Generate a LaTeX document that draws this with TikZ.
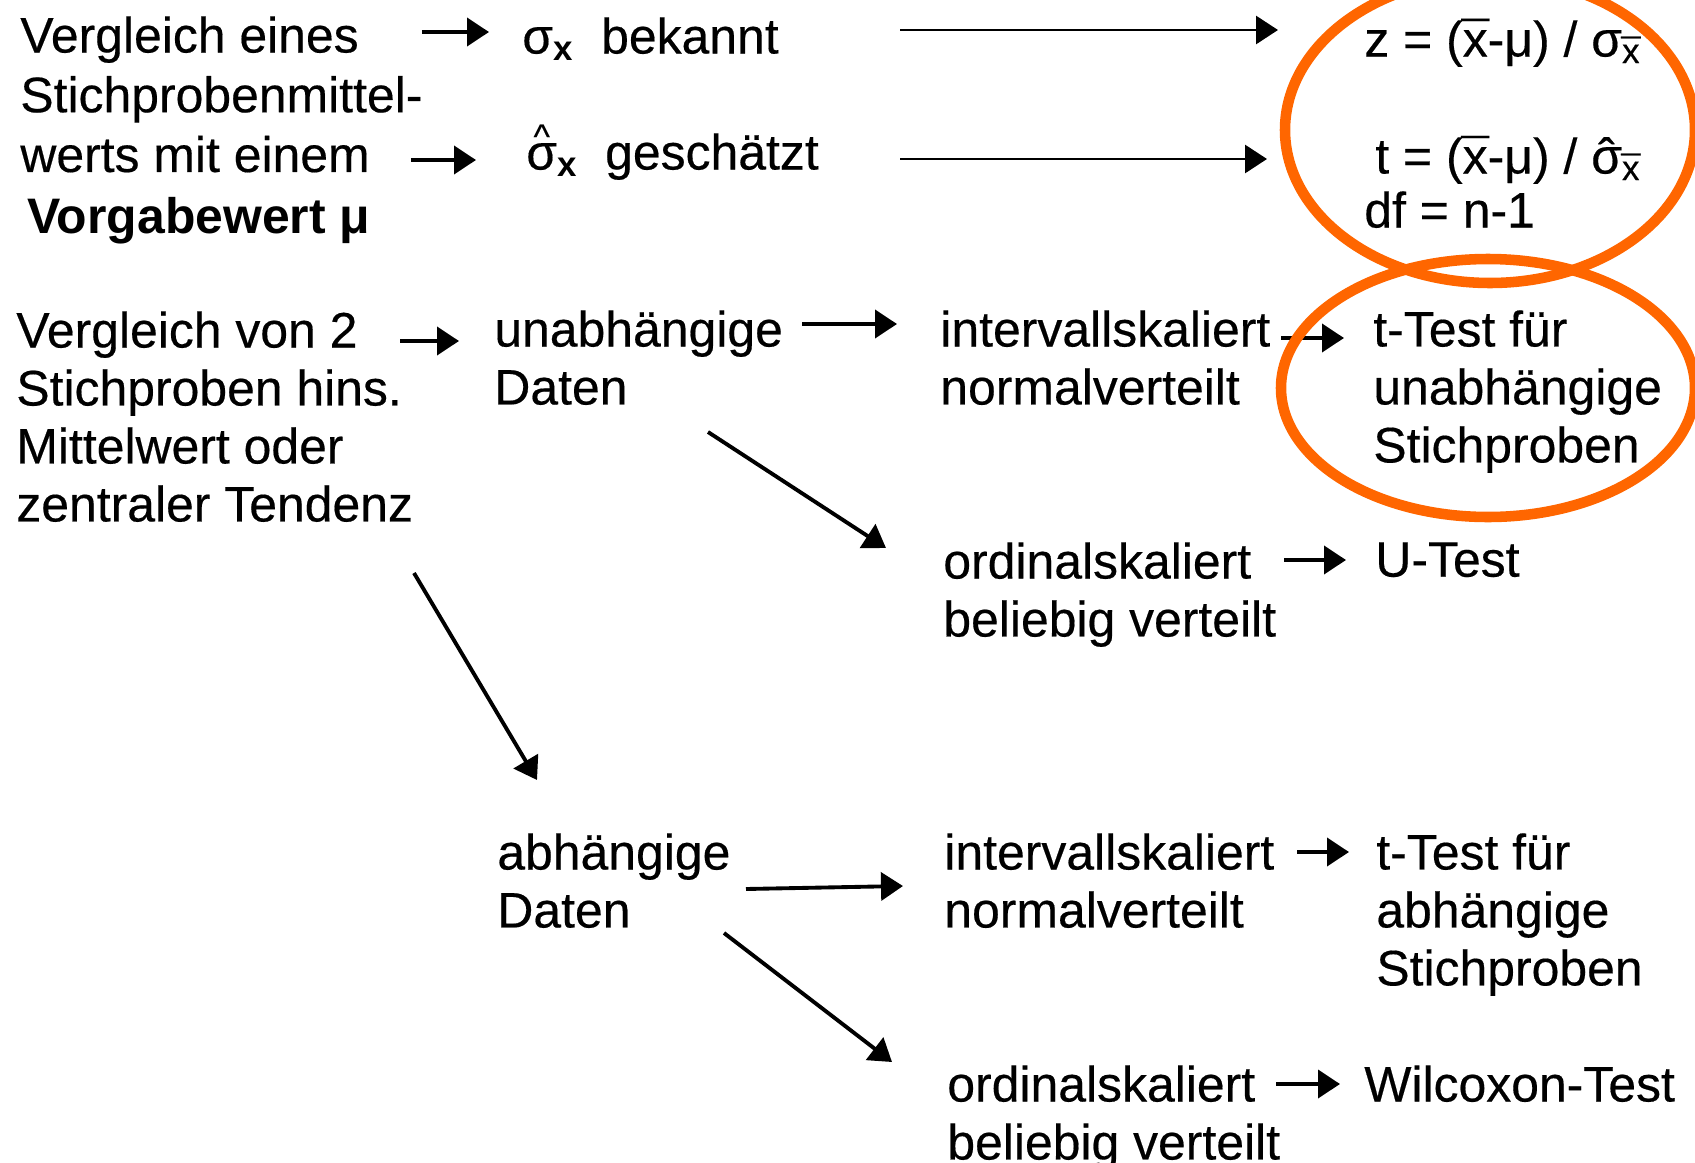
\documentclass[tikz,border=0pt]{standalone}
\usepackage{fontspec}
\setmainfont{Liberation Sans}[UprightFeatures={FakeBold=0.35}]
\usetikzlibrary{arrows.meta}
\definecolor{markorange}{RGB}{255,102,0}
\newcommand\xbar{\ooalign{x\cr\hidewidth\char"AF\hidewidth\cr}}
\newcommand\sighat[1]{\ooalign{σ\cr\hidewidth\smash{\raisebox{#1}{\char"02C6}}\hidewidth\cr}}
\newcommand\sigwedge{\ooalign{σ\cr\hidewidth\smash{\raisebox{0.42em}{\scalebox{0.7}{\char"5E}}}\hidewidth\cr}}

\begin{document}
\begin{tikzpicture}[x=0.02cm, y=-0.02cm,
	txt/.style={anchor=north west, inner sep=0pt, align=left, font=\fontsize{28.4pt}{33pt}\selectfont},
	arr/.style={line width=2.2pt, -{Triangle[length=0.44cm,width=0.56cm]}},
	longarr/.style={arr, line width=1.7pt},
	ring/.style={draw=markorange, line width=6pt}]
	\useasboundingbox (0,0) rectangle (1695,1163);
	%% one sample mean
	\node[txt, font=\fontsize{28.4pt}{34pt}\selectfont] (vgl) at (20,16) {Vergleich eines\\Stichprobenmittel-\\werts mit einem};
	\node[txt, font=\fontsize{28.4pt}{34pt}\selectfont\bfseries] (vgb) at (27,197) {Vorgabewert μ};
	\node[txt] (sigb) at (522,17) {σ\textsubscript{\textbf{x}}\ \ bekannt};
	\node[txt] (sigs) at (526,133) {\sigwedge\textsubscript{\textbf{x}}\ \ geschätzt};
	\node[txt] (zf) at (1364,20) {z = (\xbar-μ) / σ\textsubscript{\xbar}};
	\node[txt] (tf) at (1375,137) {t = (\xbar-μ) / \sighat{0em}\textsubscript{\xbar}};
	\node[txt] (df) at (1364,191) {df = n-1};
	\draw[arr] ([shift={(-1,16)}]vgl.north east) -- ([shift={(-33,15)}]sigb.north west);
	\draw[arr] ([shift={(-12,144)}]vgl.north east) -- ([shift={(-50,27)}]sigs.north west);
	\draw[longarr] ([shift={(378,13)}]sigb.north west) -- ([shift={(-86,10)}]zf.north west);
	\draw[longarr] ([shift={(374,26)}]sigs.north west) -- ([shift={(-108,22)}]tf.north west);
	%% two samples
	\node[txt] (vgl2) at (16,311) {Vergleich von 2\\Stichproben hins.\\Mittelwert oder\\zentraler Tendenz};
	\node[txt] (unab) at (494,310) {unabhängige\\Daten};
	\node[txt] (intv1) at (940,310) {intervallskaliert\\normalverteilt};
	\node[txt] (tt1) at (1373,310) {t-Test für\\unabhängige\\Stichproben};
	\node[txt] (ord1) at (943,542) {ordinalskaliert\\beliebig verteilt};
	\node[txt] (ut) at (1375,542) {U-Test};
	\node[txt] (abh) at (497,833) {abhängige\\Daten};
	\node[txt] (intv2) at (944,833) {intervallskaliert\\normalverteilt};
	\node[txt] (tt2) at (1376,833) {t-Test für\\abhängige\\Stichproben};
	\node[txt] (ord2) at (947,1065) {ordinalskaliert\\beliebig verteilt};
	\node[txt] (wil) at (1364,1065) {Wilcoxon-Test};
	\draw[arr] ([shift={(384,30)}]vgl2.north west) -- ([shift={(-35,31)}]unab.north west);
	\draw[arr] ([shift={(308,14)}]unab.north west) -- ([shift={(-43,14)}]intv1.north west);
	\draw[arr] ([shift={(341,28)}]intv1.north west) -- ([shift={(-29,28)}]tt1.north west);
	\draw[arr] ([shift={(214,122)}]unab.north west) -- ([shift={(-57,6)}]ord1.north west);
	\draw[arr] ([shift={(341,18)}]ord1.north west) -- ([shift={(-29,18)}]ut.north west);
	\draw[arr] ([shift={(398,262)}]vgl2.north west) -- ([shift={(40,-53)}]abh.north west);
	\draw[arr] ([shift={(249,56)}]abh.north west) -- ([shift={(-41,53)}]intv2.north west);
	\draw[arr] ([shift={(353,19)}]intv2.north west) -- ([shift={(-27,19)}]tt2.north west);
	\draw[arr] ([shift={(227,100)}]abh.north west) -- ([shift={(-55,-3)}]ord2.north west);
	\draw[arr] ([shift={(329,19)}]ord2.north west) -- ([shift={(-24,19)}]wil.north west);
	%% marks
	\draw[ring] (1490,130) ellipse [x radius=205, y radius=153];
	\draw[ring] (1488,388) ellipse [x radius=207, y radius=129];
\end{tikzpicture}
\end{document}
